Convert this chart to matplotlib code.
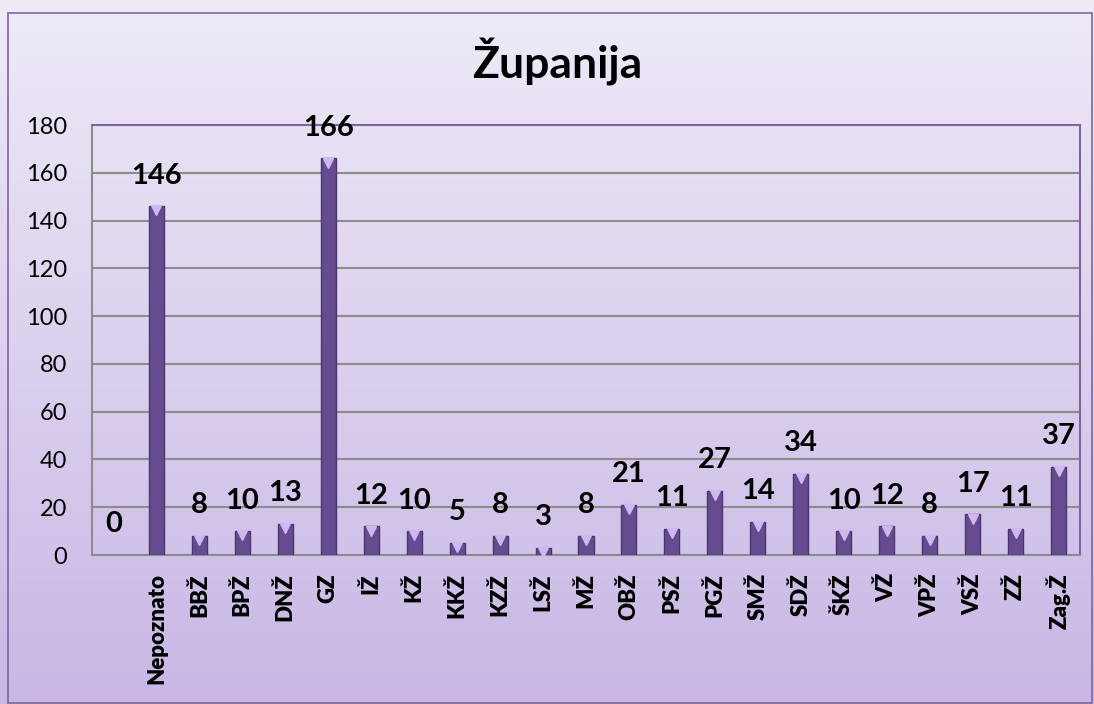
import matplotlib
matplotlib.use("Agg")

import matplotlib.pyplot as plt
import numpy as np
from matplotlib.patches import Rectangle
from matplotlib import transforms


categories = ["", "Nepoznato", "BBŽ", "BPŽ", "DNŽ", "GZ", "IŽ", "KŽ", "KKŽ",
              "KZŽ", "LSŽ", "MŽ", "OBŽ", "PSŽ", "PGŽ", "SMŽ", "SDŽ", "ŠKŽ",
              "VŽ", "VPŽ", "VSŽ", "ZŽ", "Zag.Ž"]
counts = [0, 146, 8, 10, 13, 166, 12, 10, 5, 8, 3, 8, 21, 11, 27, 14, 34, 10,
          12, 8, 17, 11, 37]
y_ticks = [0, 20, 40, 60, 80, 100, 120, 140, 160, 180]

plt.rcParams["font.family"] = ["Lato", "DejaVu Sans"]

W, H = 1094, 704
fig = plt.figure(figsize=(W / 100, H / 100), dpi=100)

# background gradient over the whole figure
bg = fig.add_axes([0, 0, 1, 1], zorder=-10)
grad = np.linspace(0, 1, 256).reshape(-1, 1)
top_col = np.array([0.937, 0.918, 0.969])
bot_col = np.array([0.784, 0.718, 0.898])
img = top_col + (bot_col - top_col) * grad
bg.imshow(img[:, None, :].repeat(2, axis=1), aspect="auto", extent=[0, 1, 0, 1])
bg.set_xlim(0, 1)
bg.set_ylim(0, 1)
bg.axis("off")

# outer frame
fig.patches.append(Rectangle((8 / W, 1 - 703 / H), 1084 / W, 690 / H,
                             transform=fig.transFigure, fill=False,
                             edgecolor="#8064A2", linewidth=1.2))

ax = fig.add_axes([92 / W, 1 - 555 / H, 988 / W, 430 / H])
ax.set_facecolor("none")

x = np.arange(len(categories))
vals = np.array(counts)
ax.bar(x[vals > 0], vals[vals > 0], width=0.35, color="#654C90",
       edgecolor="#4A366C", linewidth=1.0, zorder=3)
# small light triangle at top of each bar
tri = transforms.offset_copy(ax.transData, fig=fig, x=0, y=-3, units="points")
ax.plot(x[vals > 0], vals[vals > 0], linestyle="none", marker="v",
        markersize=7, color="#CDB8F0", transform=tri, zorder=4)

for xi, v in zip(x, counts):
    ax.annotate(str(v), (xi, v), xytext=(0, 22), textcoords="offset points",
                ha="center", va="center", fontsize=21, fontweight="bold",
                color="black", zorder=5)

ax.set_xlim(-0.5, len(categories) - 0.5)
ax.set_ylim(0, 180)
ax.set_yticks(y_ticks)
ax.set_xticks(x)
ax.set_xticklabels(categories, rotation=90, fontsize=16, fontweight="heavy")
ax.tick_params(axis="y", length=0, pad=18, labelsize=17)
ax.tick_params(axis="x", length=0, pad=13)
ax.grid(axis="y", color="#8C8C8C", linewidth=1.5, zorder=1)
ax.set_axisbelow(True)

for side in ["left", "bottom"]:
    ax.spines[side].set_color("#8C8C8C")
    ax.spines[side].set_linewidth(1.5)
for side in ["top", "right"]:
    ax.spines[side].set_color("#8064A2")
    ax.spines[side].set_linewidth(1.5)

fig.text(557 / W, 1 - 62 / H, "Županija", ha="center", va="center",
         fontsize=32, fontweight="bold")

fig.savefig("out.png", dpi=100)
